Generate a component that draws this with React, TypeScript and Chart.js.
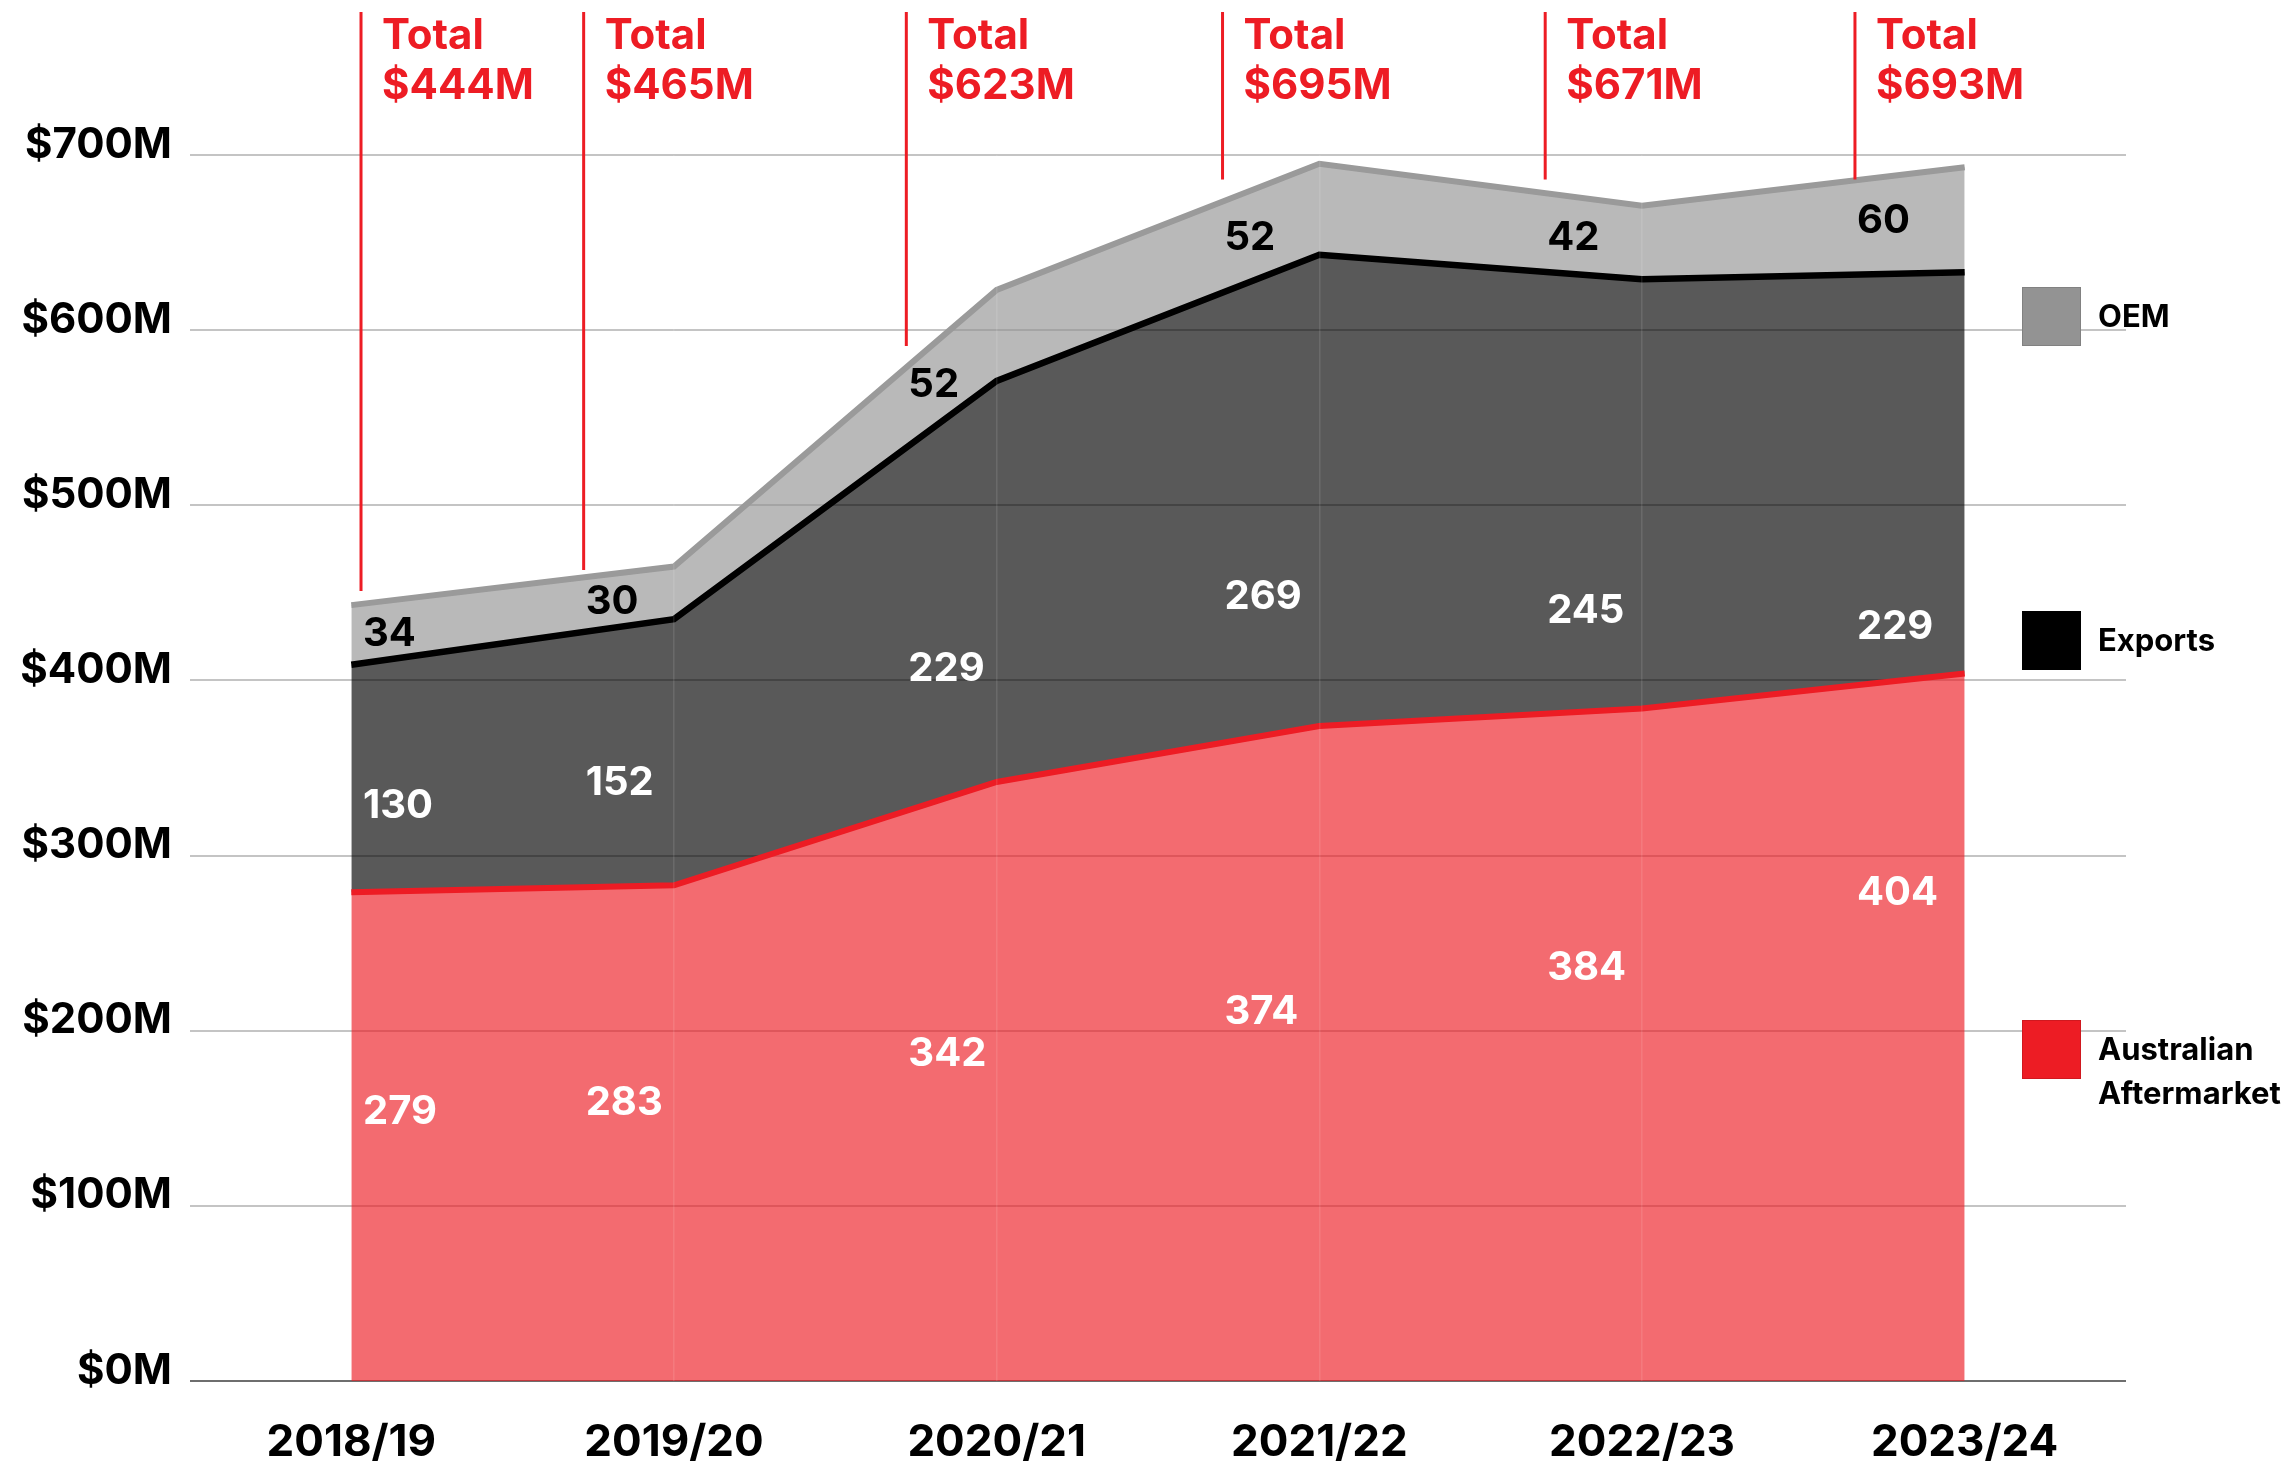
import React, { useEffect, useRef } from "react";
import { Chart, registerables } from "chart.js";

Chart.register(...registerables);

// ---- Data ----
const categories = ["2018/19", "2019/20", "2020/21", "2021/22", "2022/23", "2023/24"];
const australianAftermarket = [279, 283, 342, 374, 384, 404];
const exportsValues = [130, 152, 229, 269, 245, 229];
const oemValues = [34, 30, 52, 52, 42, 60];
const totals = [444, 465, 623, 695, 671, 693];
const yMin = 0;
const yMax = 700;
const yStep = 100;

// annotation anchors on the category axis (index units) and where each pointer ends (value units)
const annotationX = [0.03, 0.72, 1.72, 2.7, 3.7, 4.66];
const annotationEnd = [451, 463, 591, 686, 686, 686];
// vertical anchor (value units) of each in-area label
const oemLabelY = [428, 446, 570, 654, 654, 664];
const exportsLabelY = [330, 343, 408, 449, 441, 432];
const aaLabelY = [155, 160, 188, 212, 237, 280];

const legendItems = [
  { label: ["OEM"], color: "#939393", top: 287 },
  { label: ["Exports"], color: "#000000", top: 611 },
  { label: ["Australian", "Aftermarket"], color: "#ED1C24", top: 1020 },
];

const RED = "#ED1C24";
const FONT = "Inter, 'Noto Sans', sans-serif";

const overlayPlugin = {
  id: "overlay",
  afterDraw(chart: any) {
    const { ctx } = chart;
    const x = chart.scales.x;
    const y = chart.scales.y;
    ctx.save();

    // Total pointers
    annotationX.forEach((ax, i) => {
      const px = x.getPixelForValue(ax);
      ctx.strokeStyle = RED;
      ctx.lineWidth = 3;
      ctx.beginPath();
      ctx.moveTo(px, 12);
      ctx.lineTo(px, y.getPixelForValue(annotationEnd[i]));
      ctx.stroke();
      ctx.fillStyle = RED;
      ctx.font = `700 42px ${FONT}`;
      ctx.textAlign = "left";
      ctx.textBaseline = "alphabetic";
      ctx.fillText("Total", px + 21, 49);
      ctx.fillText(`$${totals[i]}M`, px + 21, 99);
    });

    // In-area value labels
    const fs = 40;
    ctx.font = `700 ${fs}px ${FONT}`;
    ctx.textAlign = "left";
    ctx.textBaseline = "alphabetic";
    const drawSeries = (vals: number[], pos: number[], color: string) => {
      ctx.fillStyle = color;
      vals.forEach((v, i) => {
        const px = x.getPixelForValue(annotationX[i]) + 2;
        const py = y.getPixelForValue(pos[i]) + fs * 0.364;
        ctx.fillText(String(v), px, py);
      });
    };
    drawSeries(oemValues, oemLabelY, "#000000");
    drawSeries(exportsValues, exportsLabelY, "#ffffff");
    drawSeries(australianAftermarket, aaLabelY, "#ffffff");

    // Legend
    legendItems.forEach((it) => {
      ctx.fillStyle = it.color;
      ctx.fillRect(2022, it.top, 59, 59);
      ctx.strokeStyle = "rgba(0,0,0,0.12)";
      ctx.lineWidth = 1;
      ctx.strokeRect(2022.5, it.top + 0.5, 58, 58);
      ctx.fillStyle = "#000000";
      ctx.font = `700 31px ${FONT}`;
      it.label.forEach((line, j) => {
        ctx.fillText(line, 2098, it.top + 40 + j * 44);
      });
    });

    ctx.restore();
  },
};

export default function App() {
  const canvasRef = useRef<HTMLCanvasElement | null>(null);

  useEffect(() => {
    const canvas = canvasRef.current;
    if (!canvas) return;
    const chart = new Chart(canvas, {
      type: "line",
      data: {
        labels: categories,
        datasets: [
          {
            label: "Australian Aftermarket",
            data: australianAftermarket,
            fill: "origin",
            backgroundColor: "rgba(237,28,36,0.65)",
            borderColor: RED,
            borderWidth: 6,
            pointRadius: 0,
            tension: 0,
          },
          {
            label: "Exports",
            data: exportsValues,
            fill: "-1",
            backgroundColor: "rgba(0,0,0,0.65)",
            borderColor: "#000000",
            borderWidth: 6.5,
            pointRadius: 0,
            tension: 0,
          },
          {
            label: "OEM",
            data: oemValues,
            fill: "-1",
            backgroundColor: "rgba(147,147,147,0.65)",
            borderColor: "#9a9a9a",
            borderWidth: 6,
            pointRadius: 0,
            tension: 0,
          },
        ],
      },
      options: {
        responsive: false,
        animation: false,
        devicePixelRatio: 1,
        layout: { padding: { top: 155, right: 156, left: 0, bottom: 0 } },
        plugins: {
          legend: { display: false },
          tooltip: { enabled: false },
        },
        scales: {
          x: {
            type: "category",
            offset: true,
            border: { display: false },
            grid: {
              z: 1,
              drawTicks: false,
              lineWidth: 1.5,
              color: (c: any) =>
                c.index > 0 && c.index < categories.length - 1
                  ? "rgba(255,255,255,0.1)"
                  : "rgba(0,0,0,0)",
            },
            ticks: {
              color: "#000000",
              font: { family: FONT, size: 44, weight: "700" },
              padding: 35,
              maxRotation: 0,
            },
            afterFit: (s: any) => {
              s.height = 85;
            },
          },
          y: {
            stacked: true,
            min: yMin,
            max: yMax,
            border: { display: false },
            grid: {
              drawTicks: false,
              lineWidth: 2,
              color: (c: any) => (c.tick && c.tick.value === 0 ? "#6e6e6e" : "#c4c4c4"),
            },
            ticks: {
              stepSize: yStep,
              color: "#000000",
              font: { family: FONT, size: 42, weight: "700" },
              padding: 18,
              labelOffset: -10,
              callback: (v: any) => `$${v}M`,
            },
            afterFit: (s: any) => {
              s.width = 190;
            },
          },
        },
      },
      plugins: [overlayPlugin],
    });
    return () => chart.destroy();
  }, []);

  return (
    <div style={{ position: "absolute", left: 0, top: 0, width: 2282, height: 1466, background: "#ffffff" }}>
      <canvas ref={canvasRef} width={2282} height={1466} style={{ display: "block", width: 2282, height: 1466 }} />
    </div>
  );
}
